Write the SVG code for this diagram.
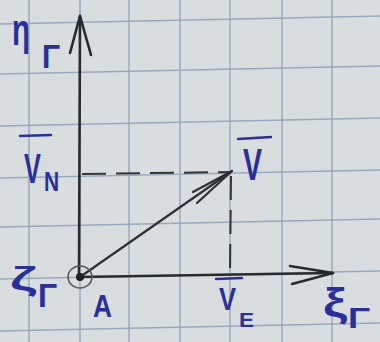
<svg xmlns="http://www.w3.org/2000/svg" width="380" height="342" viewBox="0 0 380 342">
<defs>
<style>
.grid line{stroke:#98a9be;stroke-width:1.5}
.ax{stroke:#2a2a2c;stroke-width:2.6;fill:none;stroke-linecap:round;stroke-linejoin:round}
.vec{stroke:#2f2f33;stroke-width:2.2;fill:none;stroke-linecap:round;stroke-linejoin:round}
.dash{stroke:#333338;stroke-width:2;fill:none;stroke-dasharray:24 10}
.lbl{font-family:"Liberation Sans","DejaVu Sans",sans-serif;font-weight:bold;fill:#2b2f98}
.bar{stroke:#2b2f98;stroke-width:2.4;stroke-linecap:round}
</style>
</defs>
<rect width="380" height="342" fill="#d8dddf"/>
<g class="grid" id="grid">
<line x1="29" y1="0" x2="29" y2="342"/>
<line x1="80" y1="0" x2="80" y2="342"/>
<line x1="129" y1="0" x2="129" y2="342"/>
<line x1="180" y1="0" x2="180" y2="342"/>
<line x1="230" y1="0" x2="230" y2="342"/>
<line x1="282" y1="0" x2="282" y2="342"/>
<line x1="332" y1="0" x2="332" y2="342"/>
<line x1="0" y1="24" x2="380" y2="16"/>
<line x1="0" y1="74" x2="380" y2="66"/>
<line x1="0" y1="126" x2="380" y2="118"/>
<line x1="0" y1="178" x2="380" y2="170"/>
<line x1="0" y1="227" x2="380" y2="219"/>
<line x1="0" y1="279" x2="380" y2="271"/>
<line x1="0" y1="331" x2="380" y2="323"/>
</g>
<g id="connectors">
<path class="ax" d="M79 277 L80 16"/>
<path class="ax" d="M70 53 L80 16 L91 55"/>
<path class="ax" d="M79 277 L333 273"/>
<path class="ax" d="M290 266 L333 273 L292 284"/>
<path class="dash" d="M82 174 L232 172"/>
<path class="dash" d="M231 176 L230 273"/>
<path class="vec" d="M80 277 L232 171"/>
<path class="vec" d="M193 192 L232 171 L197 203"/>
</g>
<g id="origin">
<ellipse cx="80" cy="277" rx="12" ry="11" fill="none" stroke="#55585c" stroke-width="1.6"/>
<circle cx="80" cy="277" r="4" fill="#1e1e22"/>
</g>
<g id="label-eta">
<text class="lbl" x="12" y="45" font-size="44" textLength="18" lengthAdjust="spacingAndGlyphs">η</text>
<text class="lbl" x="42" y="68" font-size="34" textLength="18" lengthAdjust="spacingAndGlyphs">Γ</text>
</g>
<g id="label-vn">
<line class="bar" x1="20" y1="136" x2="51" y2="135"/>
<text class="lbl" transform="translate(24 183) scale(0.6 1)" font-size="42">V</text>
<text class="lbl" transform="translate(44 191) scale(0.75 1)" font-size="28">N</text>
</g>
<g id="label-v">
<line class="bar" x1="238" y1="139" x2="271" y2="137"/>
<text class="lbl" x="243" y="180" font-size="44" textLength="19" lengthAdjust="spacingAndGlyphs">V</text>
</g>
<g id="label-ve">
<line class="bar" x1="216" y1="279" x2="242" y2="278"/>
<text class="lbl" x="219" y="310" font-size="32" textLength="17" lengthAdjust="spacingAndGlyphs">V</text>
<text class="lbl" x="239" y="327" font-size="20" textLength="15" lengthAdjust="spacingAndGlyphs">E</text>
</g>
<g id="label-a">
<text class="lbl" x="93" y="317" font-size="31" textLength="19" lengthAdjust="spacingAndGlyphs">A</text>
</g>
<g id="label-zeta">
<text class="lbl" x="10" y="290" font-size="34" textLength="27" lengthAdjust="spacingAndGlyphs">ζ</text>
<text class="lbl" x="38" y="307" font-size="33" textLength="19" lengthAdjust="spacingAndGlyphs">Γ</text>
</g>
<g id="label-xi">
<text class="lbl" x="323" y="317" font-size="40" textLength="24" lengthAdjust="spacingAndGlyphs">ξ</text>
<text class="lbl" x="348" y="328" font-size="29" textLength="22" lengthAdjust="spacingAndGlyphs">Γ</text>
</g>
</svg>
